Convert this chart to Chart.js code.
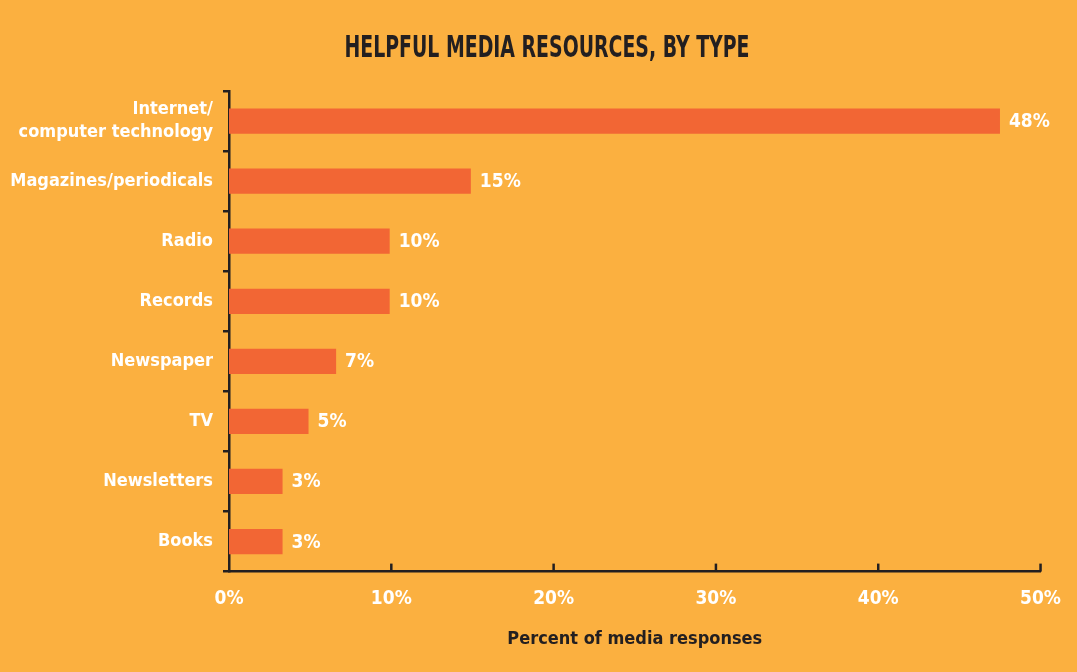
<!DOCTYPE html>
<html>
<head>
<meta charset="utf-8">
<script src="https://cdn.jsdelivr.net/npm/chart.js@4.4.1/dist/chart.umd.min.js"></script>
<style>
  html, body { margin: 0; padding: 0; background: #FBB040; }
  #wrap { width: 1077px; height: 672px; }
</style>
</head>
<body>
<div id="wrap"><canvas id="c" width="1077" height="672"></canvas></div>
<script>
const categories = [
  ["Internet/", "computer technology"],
  "Magazines/periodicals",
  "Radio",
  "Records",
  "Newspaper",
  "TV",
  "Newsletters",
  "Books"
];
const values = [47.5, 14.9, 9.9, 9.9, 6.6, 4.9, 3.3, 3.3];
const valueLabels = ["48%", "15%", "10%", "10%", "7%", "5%", "3%", "3%"];
const xTicks = [0, 10, 20, 30, 40, 50];
const chartTitle = "HELPFUL MEDIA RESOURCES, BY TYPE";
const xTitle = "Percent of media responses";

const FONT = "'DejaVu Sans Condensed', 'DejaVu Sans', sans-serif";
const BG = "#FBB040";
const BAR = "#F26634";
const DARK = "#231F20";

const bgPlugin = {
  id: 'bg',
  beforeDraw(chart) {
    const ctx = chart.ctx;
    ctx.save();
    ctx.fillStyle = BG;
    ctx.fillRect(0, 0, chart.width, chart.height);
    ctx.restore();
  }
};

const titlePlugin = {
  id: 'condensedTitle',
  afterDraw(chart) {
    const ctx = chart.ctx;
    ctx.save();
    ctx.fillStyle = DARK;
    ctx.font = "bold 30px " + FONT;
    ctx.textAlign = "center";
    ctx.textBaseline = "middle";
    ctx.translate(547, 49);
    ctx.scale(0.7, 1);
    ctx.fillText(chartTitle, 0, 0);
    ctx.restore();
  }
};

const innerTicks = {
  id: 'innerTicks',
  afterDraw(chart) {
    const x = chart.scales.x;
    const ctx = chart.ctx;
    const bottom = chart.chartArea.bottom;
    ctx.save();
    ctx.strokeStyle = DARK;
    ctx.lineWidth = 2.5;
    xTicks.forEach(v => {
      if (v === 0) return;
      const px = x.getPixelForValue(v);
      ctx.beginPath();
      ctx.moveTo(px, bottom);
      ctx.lineTo(px, bottom - 8);
      ctx.stroke();
    });
    ctx.restore();
  }
};

const valueLabelPlugin = {
  id: 'valueLabels',
  afterDatasetsDraw(chart) {
    const meta = chart.getDatasetMeta(0);
    const ctx = chart.ctx;
    ctx.save();
    ctx.fillStyle = "#FFFFFF";
    ctx.font = "bold 19px " + FONT;
    ctx.textAlign = "left";
    ctx.textBaseline = "middle";
    meta.data.forEach((bar, i) => {
      ctx.fillText(valueLabels[i], bar.x + 9, bar.y + 1);
    });
    ctx.restore();
  }
};

new Chart(document.getElementById('c'), {
  type: 'bar',
  data: {
    labels: categories,
    datasets: [{
      data: values,
      backgroundColor: BAR,
      borderWidth: 0,
      categoryPercentage: 1,
      barPercentage: 0.42
    }]
  },
  options: {
    indexAxis: 'y',
    responsive: false,
    animation: false,
    devicePixelRatio: 1,
    layout: { padding: { left: 0, right: 32, top: 91, bottom: 22 } },
    plugins: {
      legend: { display: false },
      tooltip: { enabled: false },
      title: { display: false }
    },
    scales: {
      x: {
        type: 'linear',
        min: 0,
        max: 50,
        afterBuildTicks(scale) { scale.ticks = xTicks.map(v => ({ value: v })); },
        grid: { display: false, drawTicks: false },
        border: { display: true, color: DARK, width: 2.5 },
        ticks: {
          color: "#FFFFFF",
          padding: 16,
          font: { family: FONT, size: 19, weight: 'bold' },
          callback: v => v + '%'
        },
        title: {
          display: true,
          text: xTitle,
          color: DARK,
          font: { family: FONT, size: 18, weight: 'bold' },
          padding: { top: 2, bottom: 0 }
        }
      },
      y: {
        type: 'category',
        afterFit(scale) { scale.width = 229; },
        grid: {
          display: true,
          drawOnChartArea: false,
          drawTicks: true,
          tickLength: 6,
          offset: true,
          color: DARK,
          lineWidth: 2.5
        },
        border: { display: true, color: DARK, width: 2.5 },
        ticks: {
          color: "#FFFFFF",
          padding: 10,
          font: { family: FONT, size: 18, weight: 'bold', lineHeight: 1.25 }
        }
      }
    }
  },
  plugins: [bgPlugin, innerTicks, valueLabelPlugin, titlePlugin]
});
</script>
</body>
</html>
